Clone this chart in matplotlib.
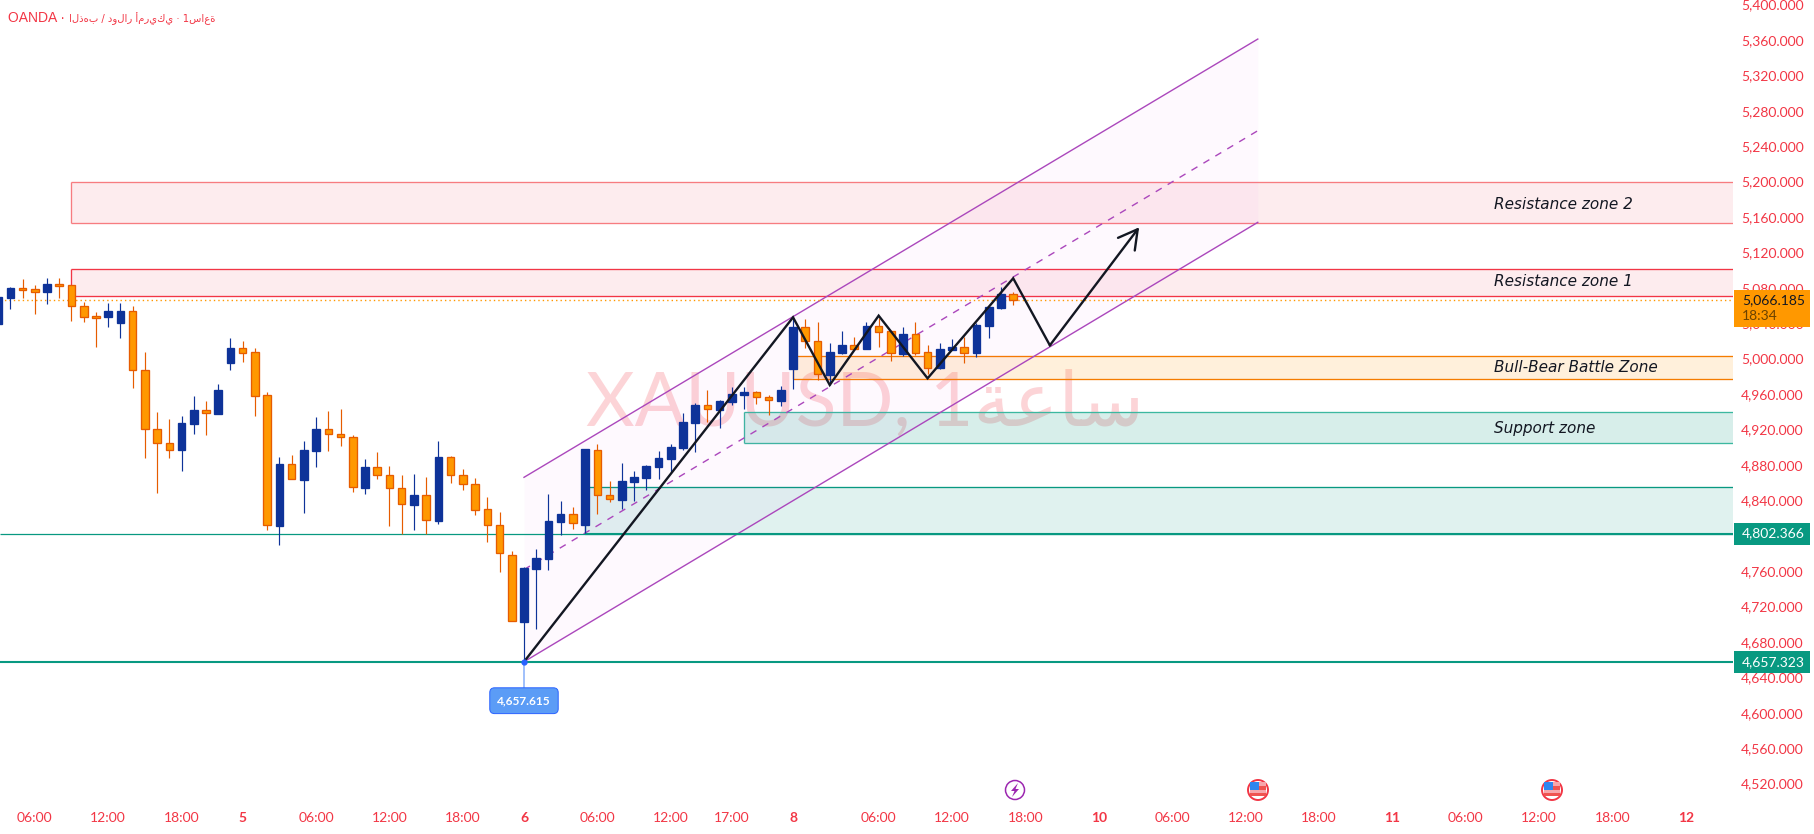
import matplotlib
matplotlib.use("Agg")
import matplotlib.pyplot as plt
from matplotlib.patches import Rectangle, Circle, Polygon
from matplotlib.transforms import Affine2D
from matplotlib.ticker import FuncFormatter

W, H = 1815, 834
AX_W, AX_H = 1733, 802
BAR_PX, BAR0_PX = 12.23, 10.33
PX_PER_PRICE, REF_Y, REF_P = 0.8854, 300, 5066.185

FIRST_BAR = -1
opens = [5039.5,5068.9,5079.8,5078.3,5075.3,5084.3,5082.8,5059.1,5048.1,5046.6,5040.6,5053.4,4986.8,4920.1,4904.3,4897.2,4926.5,4941.6,4937.8,4995.4,5011.6,5007.1,4958.5,
 4811.3,4880.6,4863.3,4896.0,4920.1,4914.5,4911.1,4854.2,4877.2,4868.2,4853.5,4835.1,4845.6,4817.0,4888.5,4868.2,4858.0,4829.8,4811.7,4777.8,4702.9,4762.8,4774.0,4815.8,
 4824.1,4812.4,4896.4,4845.6,4840.3,4861.0,4865.5,4878.0,4887.0,4899.0,4927.3,4947.2,4942.0,4951.0,4958.9,4961.9,4956.3,4952.1,4988.3,5035.3,5019.5,4981.5,5006.4,5015.4,
 5010.9,5036.5,5030.8,5005.2,5027.4,5007.1,4989.0,5009.7,5012.8,5006.7,5037.2,5057.6,5072.6]
highs = [5069.6,5080.9,5089.9,5083.2,5091.1,5091.1,5082.8,5063.9,5052.7,5062.8,5062.8,5059.4,5007.5,4939.7,4931.8,4935.2,4957.8,4952.1,4971.3,5023.3,5019.9,5012.0,4962.3,
 4888.9,4891.2,4907.0,4934.0,4940.8,4943.1,4913.7,4886.6,4894.5,4878.7,4868.6,4869.7,4866.3,4907.0,4890.0,4875.3,4865.2,4843.7,4826.8,4782.7,4765.0,4785.0,4847.1,4839.2,
 4832.4,4897.9,4903.2,4861.8,4882.1,4873.1,4879.9,4895.7,4903.6,4938.6,4949.9,4964.6,4953.3,4967.9,4967.9,4963.4,4958.9,4969.1,5047.4,5044.8,5041.4,5017.6,5031.2,5024.4,
 5041.4,5045.9,5031.2,5035.7,5041.4,5015.4,5017.6,5022.2,5024.4,5039.9,5058.7,5080.5,5075.3]
lows = [5036.1,5056.4,5068.9,5050.8,5062.1,5068.5,5042.9,5041.7,5013.1,5036.1,5023.7,4967.2,4888.1,4848.6,4888.1,4873.4,4915.2,4914.1,4937.8,4987.5,4996.6,4935.6,4806.8,
 4789.9,4863.7,4826.0,4878.0,4896.0,4901.7,4849.7,4847.5,4864.4,4811.3,4801.9,4806.8,4801.5,4813.6,4859.9,4852.0,4823.8,4793.3,4759.4,4703.3,4657.7,4694.2,4761.6,4800.8,
 4807.9,4802.7,4824.9,4838.4,4830.2,4839.6,4851.6,4864.0,4871.9,4896.8,4894.9,4928.8,4922.0,4947.6,4943.1,4949.1,4936.3,4946.5,4965.7,5012.4,4975.9,4970.2,5005.2,5011.3,
 5010.9,5013.1,4997.3,5003.0,5004.1,4982.6,4988.7,5009.7,4995.4,5002.2,5023.7,5056.4,5060.9]
closes = [5069.6,5079.8,5077.9,5075.6,5084.3,5082.4,5059.1,5047.4,5046.3,5053.8,5053.4,4986.8,4920.1,4904.3,4897.2,4927.3,4942.0,4938.2,4964.6,5012.0,5006.0,4958.2,4811.7,
 4881.0,4863.7,4896.8,4920.5,4914.5,4911.1,4854.6,4877.6,4868.2,4853.5,4835.4,4846.0,4817.3,4888.9,4868.2,4858.0,4828.6,4811.7,4780.1,4703.3,4763.5,4774.4,4816.6,4824.5,
 4813.9,4897.9,4845.6,4841.1,4861.4,4866.3,4878.7,4887.8,4900.2,4928.4,4947.6,4942.7,4952.1,4960.0,4962.3,4956.3,4952.9,4964.6,5035.7,5019.5,4982.3,5007.5,5015.4,5011.3,
 5036.9,5030.5,5006.0,5027.8,5006.7,4989.8,5010.9,5013.1,5006.7,5038.0,5058.7,5073.0,5065.8]

price_ticks = list(range(4520, 5401, 40))
time_tick_bars = [2, 8, 14, 19, 25, 31, 37, 42, 48, 54, 59, 64, 71, 77, 83, 89, 95, 101, 107, 113, 119, 125, 131, 137]
time_tick_labels = ["06:00","12:00","18:00","5","06:00","12:00","18:00","6","06:00","12:00","17:00","8","06:00","12:00","18:00","10","06:00","12:00","18:00","11","06:00","12:00","18:00","12"]

zone_starts = [5, 5, 64, 60, 47]
zone_tops = [5199.1, 5100.9, 5002.6, 4939.3, 4855.3]
zone_bottoms = [5152.8, 5070.4, 4977.3, 4904.3, 4802.4]
zone_labels = ["Resistance zone 2", "Resistance zone 1", "Bull-Bear Battle Zone", "Support zone", None]
zone_label_prices = [5174.6, 5087.6, 4989.4, 4921.6, None]

channel_bars = [42, 102]
channel_upper = [4865.9, 5360.9]
channel_lower = [4657.6, 5153.9]
channel_mid = [4761.7, 5257.4]

path_bars = [42, 64, 67, 71, 75, 82, 85]
path_prices = [4657.6, 5046.6, 4970.2, 5048.5, 4977.7, 5090.7, 5015.0]
arrow_tip_bar, arrow_tip_price = 92.3, 5148.3

last_price, last_label, countdown = 5066.185, "5,066.185", "18:34"
support_lines = [4802.366, 4657.323]
low_price, low_label = 4657.615, "4,657.615"
header_left = "OANDA ·"
header_right = "الذهب / دولار أمريكي · 1ساعة"
# presentation forms in visual order, since matplotlib does no Arabic shaping
watermark = "XAUUSD, 1\uFE94\uFECB\uFE8E\uFEB3"

RED = "#f23645"
BLUE = "#0e3399"
ORANGE, ORANGE_EDGE = "#ff9800", "#e65c00"
GREEN = "#089981"
PURPLE = "#ab47bc"
BLACK = "#131722"
zone_edges = ["#f77c80", "#f23645", "#f57c00", "#3cb8a0", "#089981"]
zone_fills = [("#f23645", 0.09), ("#f23645", 0.09), ("#ff9800", 0.14), ("#089981", 0.16), ("#089981", 0.12)]
TICK_FONT = ["Lato", "DejaVu Sans"]

fig = plt.figure(figsize=(W / 100, H / 100), dpi=100, facecolor="white")
ax = fig.add_axes([0, 1 - AX_H / H, AX_W / W, AX_H / H])
ax.set_xlim((0 - BAR0_PX) / BAR_PX, (AX_W - BAR0_PX) / BAR_PX)
ax.set_ylim(REF_P - (AX_H - REF_Y) / PX_PER_PRICE, REF_P + REF_Y / PX_PER_PRICE)
for s in ax.spines.values():
    s.set_visible(False)

pixel = Affine2D().scale(1, -1).translate(0, H)

ax.text(865, 426, watermark, transform=pixel, fontsize=54, color=RED, alpha=0.21,
        family=["Lato", "DejaVu Sans"], ha="center", va="baseline", zorder=0.5)

for st, t, b, ec, fc in zip(zone_starts, zone_tops, zone_bottoms, zone_edges, zone_fills):
    ax.add_patch(Rectangle((st, b), ax.get_xlim()[1] - st, t - b, facecolor=fc[0], alpha=fc[1],
                           edgecolor="none", zorder=1))
    ax.hlines([t, b], st, ax.get_xlim()[1], color=ec, lw=0.95, zorder=1.2)
    ax.vlines(st, b, t, color=ec, lw=0.95, zorder=1.2)

ax.fill_between(channel_bars, channel_lower, channel_upper, color="#d500f9", alpha=0.025,
                lw=0, zorder=1.5)
ax.plot(channel_bars, channel_upper, color=PURPLE, lw=1.0, zorder=1.6)
ax.plot(channel_bars, channel_lower, color=PURPLE, lw=1.0, zorder=1.6)
ax.plot(channel_bars, channel_mid, color=PURPLE, lw=1.0, ls=(0, (5, 5)), zorder=1.6)

ax.hlines(support_lines[0], ax.get_xlim()[0], zone_starts[4], color=GREEN, lw=0.9, zorder=1.7)
ax.hlines(support_lines[0], zone_starts[4], ax.get_xlim()[1], color=GREEN, lw=1.5, zorder=1.7)
ax.axhline(support_lines[1], color=GREEN, lw=1.5, zorder=1.7)
ax.axhline(last_price, color=ORANGE, lw=1.0, ls=(0, (1, 2.2)), zorder=2)

for k, (o, h, l, c) in enumerate(zip(opens, highs, lows, closes)):
    i = FIRST_BAR + k
    up = c >= o
    wick = BLUE if up else ORANGE_EDGE
    ax.vlines(i, l, h, color=wick, lw=0.85, zorder=3)
    ax.bar(i, abs(c - o), bottom=min(o, c), width=0.62, color=BLUE if up else ORANGE,
           edgecolor=wick, linewidth=0.95, zorder=3.1)

ax.plot(path_bars, path_prices, color=BLACK, lw=1.7, zorder=4, solid_joinstyle="miter")
ax.annotate("", xy=(arrow_tip_bar, arrow_tip_price), xytext=(path_bars[-1], path_prices[-1]),
            arrowprops=dict(arrowstyle="->,head_length=0.75,head_width=0.42", color=BLACK, lw=1.7,
                            shrinkA=0, shrinkB=0, mutation_scale=18), zorder=4)

for lab, lp in zip(zone_labels, zone_label_prices):
    if lab:
        ax.text((1494 - BAR0_PX) / BAR_PX, lp, lab, fontsize=11, style="italic", family="DejaVu Sans",
                color=BLACK, ha="left", va="center", zorder=5)

ax.vlines(channel_bars[0], low_price - 32, low_price, color="#90b5fb", lw=1.2, zorder=3.5)
ax.plot([channel_bars[0]], [low_price], "o", ms=3.5, color="#2962ff", zorder=4.5)
ax.text(channel_bars[0], low_price - 44, low_label, fontsize=8.6, fontweight="bold", family=TICK_FONT,
        color="white", ha="center", va="center", zorder=6,
        bbox=dict(boxstyle="round,pad=0.62,rounding_size=0.4", fc="#5b9cf6", ec="#2962ff", lw=0.7))

ax.yaxis.tick_right()
ax.set_yticks(price_ticks)
ax.yaxis.set_major_formatter(FuncFormatter(lambda v, _: f"{v:,.3f}"))
ax.tick_params(axis="y", length=0, pad=5.8, labelsize=10, labelcolor=RED)
ax.set_xticks(time_tick_bars)
ax.set_xticklabels(time_tick_labels)
ax.tick_params(axis="x", length=0, pad=7, labelsize=10, labelcolor=RED)
for t in ax.get_yticklabels():
    t.set_family(TICK_FONT)
for t in ax.get_xticklabels():
    t.set_family(TICK_FONT)
    if len(t.get_text()) <= 2:
        t.set_fontweight("bold")

bt = ax.get_yaxis_transform()
x0, w = (AX_W + 1) / AX_W, 76 / AX_W
ax.add_patch(Rectangle((x0, last_price - 30), w, 41.5, transform=bt, fc=ORANGE, ec="none",
                       clip_on=False, zorder=10))
ax.text(x0 + 8 / AX_W, last_price, last_label, transform=bt, fontsize=10, family=TICK_FONT,
        color=BLACK, va="center", ha="left", zorder=11, clip_on=False)
ax.text(x0 + 8 / AX_W, last_price - 18, countdown, transform=bt, fontsize=10, family=TICK_FONT,
        color="#6b4200", va="center", ha="left", zorder=11, clip_on=False)
for lv in support_lines:
    ax.add_patch(Rectangle((x0, lv - 12.4), w, 24.8, transform=bt, fc=GREEN, ec="none",
                           clip_on=False, zorder=10))
    ax.text(x0 + 8 / AX_W, lv, f"{lv:,.3f}", transform=bt, fontsize=10, family=TICK_FONT,
            color="white", va="center", ha="left", zorder=11, clip_on=False)

fig.text(8 / W, 1 - 18.5 / H, header_left, fontsize=10, color=RED, family="Liberation Sans",
         va="center", ha="left")
fig.text(69 / W, 1 - 18.5 / H, header_right, fontsize=7.2, color=RED, family="DejaVu Sans",
         va="center", ha="left")

def add(p):
    p.set_transform(pixel)
    p.set_clip_on(False)
    ax.add_patch(p)
    return p

add(Circle((1015, 790), 9.5, fc="white", ec="#9c27b0", lw=1.1, zorder=6))
add(Polygon([(1018, 783), (1011, 791), (1014.5, 791), (1012, 797), (1019, 789), (1015.5, 789)],
            closed=True, fc="#9c27b0", ec="none", zorder=7))
for cx in (1258, 1552):
    add(Circle((cx, 790), 10, fc="white", ec=RED, lw=1.4, zorder=6))
    clip = Circle((cx, 790), 8, transform=pixel)
    for xy, wd, ht, col in [((cx - 8, 782), 16, 11, "#f7a6ab"), ((cx - 8, 782), 9, 8, "#2f86f0"),
                            ((cx + 1, 786), 7, 4, "#ef5350"), ((cx - 8, 793), 16, 3, "#ef5350")]:
        r = add(Rectangle(xy, wd, ht, fc=col, ec="none", zorder=7))
        r.set_clip_path(clip)

fig.savefig("out.png", dpi=100, facecolor="white")
